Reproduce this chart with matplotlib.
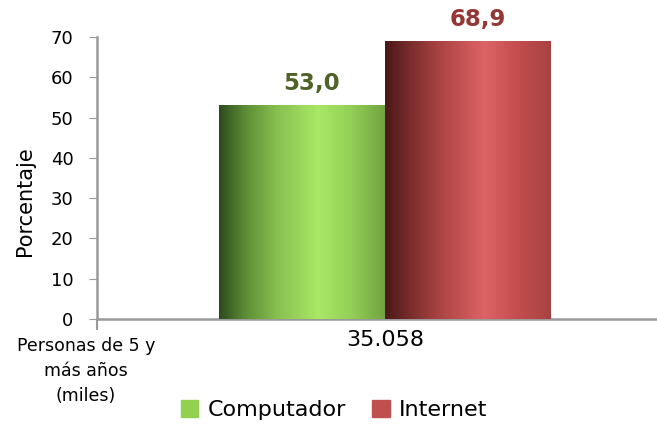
import numpy as np
import matplotlib.pyplot as plt
from matplotlib.colors import LinearSegmentedColormap

# data
series = ['Computador', 'Internet']
values = [53.0, 68.9]
value_labels = ['53,0', '68,9']
category = '35.058'
row_label = 'Personas de 5 y\nmás años\n(miles)'
legend_colors = ['#92d050', '#c0504d']
label_colors = ['#4f6228', '#953735']
gradients = [
    ['#2e4a1e', '#5a8a34', '#88c050', '#a8e865', '#92cf56', '#72a340'],
    ['#4a1818', '#7a2c2c', '#b04646', '#dc6464', '#c44d4d', '#a84242'],
]
grad_pos = [0.0, 0.15, 0.35, 0.6, 0.8, 1.0]

W, H = 657, 426
fig = plt.figure(figsize=(W / 100, H / 100), dpi=100)
ax = fig.add_axes([97 / W, 1 - 319 / H, 1 - 97 / W, (319 - 37) / H])

width = 0.3
xpos = [-width / 2, width / 2]
bars = ax.bar(xpos, values, width, color=legend_colors, label=series, zorder=2)

# horizontal gradient inside each bar
grad = np.linspace(0, 1, 256).reshape(1, -1)
for rect, cols in zip(bars, gradients):
    cmap = LinearSegmentedColormap.from_list('g', list(zip(grad_pos, cols)))
    x0 = rect.get_x()
    im = ax.imshow(grad, cmap=cmap, aspect='auto', zorder=3,
                   extent=[x0, x0 + rect.get_width(), 0, rect.get_height()])
    im.set_clip_path(rect)
    rect.set_facecolor('none')
    rect.set_edgecolor('none')

for x, v, t, c in zip(xpos, values, value_labels, label_colors):
    ax.annotate(t, (x, v), xytext=(7, 16), textcoords='offset points',
                ha='center', va='center', fontsize=16.5, fontweight='bold',
                color=c)

a = -(385 - 97) / (166 / width)
b = (657 - 385) / (166 / width)
ax.set_xlim(a, b)
ax.set_ylim(0, 70)
ax.set_yticks(np.arange(0, 71, 10))
ax.tick_params(axis='y', labelsize=13, length=6, color='#999999', pad=11)
ax.set_xticks([a])
ax.set_xticklabels([''])
ax.tick_params(axis='x', length=8, color='#999999', width=1.5)
ax.set_xticks([0], minor=True)
ax.set_xticklabels([category], minor=True, fontsize=16)
ax.tick_params(axis='x', which='minor', length=0, pad=8)

for s in ['top', 'right']:
    ax.spines[s].set_visible(False)
for s in ['left', 'bottom']:
    ax.spines[s].set_color('#999999')
    ax.spines[s].set_linewidth(1.8)

fig.text(25 / W, 1 - 201 / H, 'Porcentaje', rotation=90, fontsize=15,
         ha='center', va='center')
fig.text(86 / W, 1 - 371 / H, row_label, fontsize=12.5, ha='center',
         va='center', linespacing=1.5)

handles = [plt.Rectangle((0, 0), 1, 1, color=c) for c in legend_colors]
fig.legend(handles, series, loc='center', bbox_to_anchor=(334 / W, 1 - 410 / H),
           ncol=2, frameon=False, fontsize=16, handlelength=0.8,
           handleheight=0.8, handletextpad=0.4, columnspacing=1.2)

fig.savefig('out.png', dpi=100)
